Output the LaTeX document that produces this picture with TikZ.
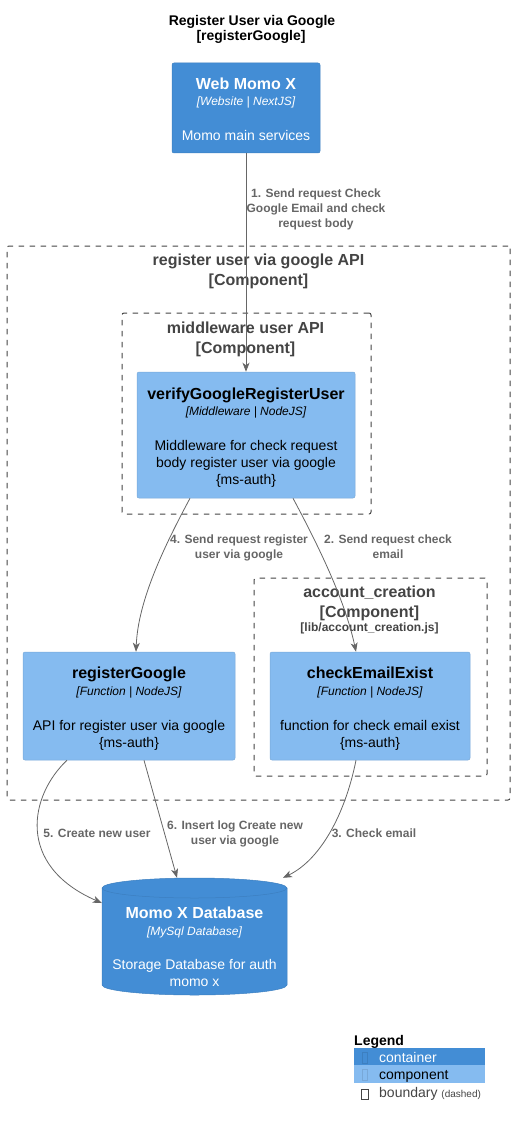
\documentclass[tikz,border=0pt]{standalone}
\usepackage{fontspec}
\setmainfont{Liberation Sans}
\usetikzlibrary{arrows.meta,calc}
\definecolor{contC}{HTML}{438DD5}
\definecolor{compC}{HTML}{85BBF0}
\definecolor{contB}{HTML}{3C7FC0}
\definecolor{compB}{HTML}{78A8D8}
\definecolor{bndC}{HTML}{444444}
\definecolor{edgeC}{HTML}{666666}
\begin{document}
\begin{tikzpicture}[x=1pt,y=-1pt,
  contbox/.style={draw=contB,fill=contC,rounded corners=2pt,inner sep=0pt,line width=0.5pt},
  compbox/.style={draw=compB,fill=compC,rounded corners=2pt,inner sep=0pt,line width=0.5pt},
  bnd/.style={draw=bndC,dash pattern=on 5.5pt off 5.5pt,rounded corners=2pt,line width=1pt,inner sep=0pt},
  txt/.style={inner sep=0pt,anchor=base},
  ttl/.style={txt,font=\fontsize{16}{18}\selectfont\bfseries},
  tech/.style={txt,font=\fontsize{12}{14}\selectfont\itshape},
  desc/.style={txt,font=\fontsize{14}{16}\selectfont},
  btitle/.style={txt,text=bndC,font=\fontsize{16}{18}\selectfont\bfseries},
  elabel/.style={txt,text=edgeC,font=\fontsize{12}{14}\selectfont\bfseries},
  conn/.style={draw=edgeC,line width=0.8pt,-{Stealth[length=9pt,width=7pt,inset=2.5pt]}},
]
\useasboundingbox (0,0) rectangle (515,1126);

% diagram title
\node[txt,font=\fontsize{14}{16}\selectfont\bfseries] (titleA) at (252,26) {Register User via Google};
\node[txt,font=\fontsize{14}{16}\selectfont\bfseries] (titleB) at (251,41) {[registerGoogle]};

% boundaries
\node[bnd,minimum width=503pt,minimum height=554pt] (outer) at (258.5,523) {};
\node[btitle] (outerA) at (258.5,265) {register user via google API};
\node[btitle] (outerB) at (258.5,285) {[Component]};

\node[bnd,minimum width=249pt,minimum height=201pt] (mid) at (246.5,413.5) {};
\node[btitle] (midA) at (245.5,333) {middleware user API};
\node[btitle] (midB) at (245.5,353) {[Component]};

\node[bnd,minimum width=233pt,minimum height=198pt] (acc) at (370.5,677) {};
\node[btitle] (accA) at (369.5,597) {account\_creation};
\node[btitle] (accB) at (369.5,617) {[Component]};
\node[txt,text=bndC,font=\fontsize{12}{14}\selectfont\bfseries] (accC) at (369.5,631) {[lib/account\_creation.js]};

% Web Momo X
\node[contbox,minimum width=148pt,minimum height=90pt] (web) at (246,108) {};
\node[ttl,text=white] (webT) at (246,90) {Web Momo X};
\node[tech,text=white] (webS) at (246,106) {[Website | NextJS]};
\node[desc,text=white] (webD) at (246,141) {Momo main services};

% verifyGoogleRegisterUser
\node[compbox,minimum width=218pt,minimum height=126pt] (verify) at (246,435) {};
\node[ttl] (verT) at (246,399) {verifyGoogleRegisterUser};
\node[tech] (verS) at (246,415) {[Middleware | NodeJS]};
\node[desc] (verD1) at (246,450) {Middleware for check request};
\node[desc] (verD2) at (246,467) {body register user via google};
\node[desc] (verD3) at (246,484) {\{ms-auth\}};

% registerGoogle
\node[compbox,minimum width=212pt,minimum height=108pt] (regG) at (129,706) {};
\node[ttl] (regT) at (129,678) {registerGoogle};
\node[tech] (regS) at (129,695) {[Function | NodeJS]};
\node[desc] (regD1) at (129,730) {API for register user via google};
\node[desc] (regD2) at (129,747) {\{ms-auth\}};

% checkEmailExist
\node[compbox,minimum width=200pt,minimum height=108pt] (check) at (370,706) {};
\node[ttl] (chkT) at (370,678) {checkEmailExist};
\node[tech] (chkS) at (370,695) {[Function | NodeJS]};
\node[desc] (chkD1) at (370,730) {function for check email exist};
\node[desc] (chkD2) at (370,747) {\{ms-auth\}};

% database
\node[inner sep=0pt,minimum width=185pt,minimum height=117pt] (db) at (194.5,936.5) {};
\path[fill=contC,draw=contB,line width=0.5pt] (102,888) -- (102,985)
  arc[start angle=180,end angle=360,x radius=92.5pt,y radius=10pt] -- (287,888)
  arc[start angle=0,end angle=180,x radius=92.5pt,y radius=10pt] -- cycle;
\draw[contB,line width=0.5pt] (102,888) arc[start angle=180,end angle=360,x radius=92.5pt,y radius=10pt];
\node[ttl,text=white] (dbT) at (194.5,918) {Momo X Database};
\node[tech,text=white] (dbS) at (194.5,935) {[MySql Database]};
\node[desc,text=white] (dbD1) at (194.5,969) {Storage Database for auth};
\node[desc,text=white] (dbD2) at (194.5,986) {momo x};

% connectors
\draw[conn] (web.south) -- (verify.north);
\draw[conn] ([xshift=-56pt]verify.south) .. controls (165,545) and (138,600) .. ([xshift=7pt]regG.north);
\draw[conn] ([xshift=47pt]verify.south) .. controls (318,545) and (345,600) .. ([xshift=-14pt]check.north);
\draw[conn] ([xshift=-62pt]regG.south) .. controls (30,795) and (15,865) .. ([yshift=33.5pt]db.west);
\draw[conn] ([xshift=15pt]regG.south) -- ([xshift=-17.5pt]db.north);
\draw[conn] ([xshift=-14pt]check.south) .. controls (345,815) and (320,860) .. ([xshift=88.5pt]db.north);

% connector labels
\node[elabel] (l1a) at (316,197) {1. Send request Check};
\node[elabel] (l1b) at (316,212) {Google Email and check};
\node[elabel] (l1c) at (316,227) {request body};
\node[elabel] (l4a) at (239,543) {4. Send request register};
\node[elabel] (l4b) at (239,558) {user via google};
\node[elabel] (l2a) at (388,543) {2. Send request check};
\node[elabel] (l2b) at (388,558) {email};
\node[elabel] (l5a) at (97,837) {5. Create new user};
\node[elabel] (l6a) at (235,829) {6. Insert log Create new};
\node[elabel] (l6b) at (235,844) {user via google};
\node[elabel] (l3a) at (374,837) {3. Check email};

% legend
\node[inner sep=0pt,anchor=base west,font=\fontsize{14}{16}\selectfont\bfseries] (legT) at (354,1045) {Legend};
\node[fill=contC,inner sep=0pt,minimum width=131pt,minimum height=17.5pt] (legCont) at (419.5,1056.5) {};
\node[fill=compC,inner sep=0pt,minimum width=131pt,minimum height=17.5pt] (legComp) at (419.5,1074) {};
\node[draw=contB,inner sep=0pt,minimum width=5pt,minimum height=11pt] (legCsq) at (364.5,1057.5) {};
\node[draw=compB,inner sep=0pt,minimum width=5pt,minimum height=11pt] (legPsq) at (364.5,1075) {};
\node[draw=bndC,inner sep=0pt,minimum width=7pt,minimum height=10pt,line width=0.6pt] (legBsq) at (364.5,1094) {};
\node[inner sep=0pt,anchor=base west,text=white,font=\fontsize{14}{16}\selectfont] (legCt) at (379,1062) {container};
\node[inner sep=0pt,anchor=base west,font=\fontsize{14}{16}\selectfont] (legPt) at (379,1079) {component};
\node[inner sep=0pt,anchor=base west,text=bndC,font=\fontsize{14}{16}\selectfont] (legBt) at (379,1097) {boundary {\fontsize{10}{12}\selectfont(dashed)}};
\end{tikzpicture}
\end{document}
